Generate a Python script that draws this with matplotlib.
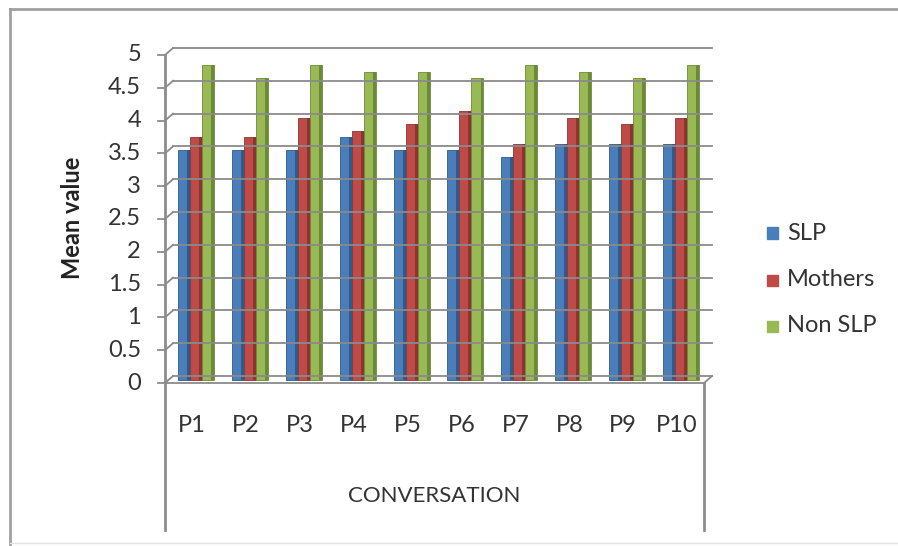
import matplotlib
matplotlib.use("Agg")
import matplotlib.pyplot as plt
from matplotlib.lines import Line2D
from matplotlib.patches import Rectangle
from matplotlib.transforms import IdentityTransform, ScaledTranslation

# ---- data ----
categories = ["P1", "P2", "P3", "P4", "P5", "P6", "P7", "P8", "P9", "P10"]
series_names = ["SLP", "Mothers", "Non SLP"]
slp = [3.5, 3.5, 3.5, 3.7, 3.5, 3.5, 3.4, 3.6, 3.6, 3.6]
mothers = [3.7, 3.7, 4.0, 3.8, 3.9, 4.1, 3.6, 4.0, 3.9, 4.0]
non_slp = [4.8, 4.6, 4.8, 4.7, 4.7, 4.6, 4.8, 4.7, 4.6, 4.8]
y_ticks = [0, 0.5, 1, 1.5, 2, 2.5, 3, 3.5, 4, 4.5, 5]
y_tick_labels = ["0", "0.5", "1", "1.5", "2", "2.5", "3", "3.5", "4", "4.5", "5"]
x_title = "CONVERSATION"
y_title = "Mean value"

face_colors = ["#4A7EBB", "#BE4B48", "#98B954"]
side_colors = ["#2F5A8A", "#8C3432", "#6A8A38"]

plt.rcParams["font.family"] = ["Lato", "DejaVu Sans"]

W, H, DPI = 898, 546, 100
fig = plt.figure(figsize=(W / DPI, H / DPI), dpi=DPI)
fig.patch.set_facecolor("white")

# bar plane (middle depth of the pseudo-3D box)
L, R, T, B = 169, 708, 52, 380
ax = fig.add_axes([L / W, 1 - B / H, (R - L) / W, (B - T) / H])
ax.set_xlim(-0.5, len(categories) - 0.5)
ax.set_ylim(0, 5)
ax.axis("off")

grid_col = "#8A8A8A"
axis_col = "#8C8C8C"


def disp(x, v):
    return ax.transData.transform((x, v))


def pix_line(xs, ys, **kw):
    """Line in figure pixel coordinates (origin at top-left)."""
    ln = Line2D(xs, [H - y for y in ys], transform=IdentityTransform(), **kw)
    fig.add_artist(ln)
    return ln


front = (-4, 3)   # pixel offset (dx, dy-down) of the front plane
back = (4, -4)    # pixel offset of the back wall

x0, x1 = -0.5, len(categories) - 0.5

def to_px(x, v, off):
    dx, dy = disp(x, v)
    return dx + off[0], (H - dy) + off[1]

# back wall gridlines and diagonal connectors to the front axis
for v in y_ticks:
    bx0, by0 = to_px(x0, v, back)
    bx1, by1 = to_px(x1, v, back)
    fx0, fy0 = to_px(x0, v, front)
    pix_line([bx0, bx1], [by0, by1], color=grid_col, lw=1.3, zorder=1)
    pix_line([fx0, bx0], [fy0, by0], color=grid_col, lw=1.3, zorder=1)
    # tick mark on front axis
    pix_line([fx0 - 7, fx0], [fy0, fy0], color=axis_col, lw=1.3, zorder=1)
    fig.text((fx0 - 24) / W, 1 - fy0 / H, y_tick_labels[y_ticks.index(v)],
             ha="right", va="center", fontsize=17, color="#333333")

# floor edges
fx0, fy0 = to_px(x0, 0, front)
fx1, fy1 = to_px(x1, 0, front)
bx1, by1 = to_px(x1, 0, back)
_, fy5 = to_px(x0, 5, front)
pix_line([fx0, fx1], [fy0, fy1], color=grid_col, lw=1.3, zorder=1)
pix_line([fx1, bx1], [fy1, by1], color=grid_col, lw=1.3, zorder=1)

# front vertical axis line, extending down around the category labels
pix_line([fx0, fx0], [fy5, 530], color=axis_col, lw=2.0, zorder=1)
pix_line([fx1, fx1], [fy1, 530], color=axis_col, lw=2.0, zorder=1)

# bars
n = len(categories)
bw = 0.223
sw = 0.055
data = [slp, mothers, non_slp]
for k, (vals, fc, sc) in enumerate(zip(data, face_colors, side_colors)):
    xs = [i + (k - 1) * bw for i in range(n)]
    ax.bar(xs, vals, bw, color=fc, edgecolor=sc, linewidth=0.6,
           zorder=3 + 2 * k, clip_on=False)
    ax.bar([x + bw / 2 - sw / 2 for x in xs], vals, sw, color=sc,
           linewidth=0, zorder=4 + 2 * k, clip_on=False)

# category labels on the front plane
for i, c in enumerate(categories):
    cx, _ = to_px(i, 0, front)
    fig.text(cx / W, 1 - 425 / H, c, ha="center", va="center",
             fontsize=17, color="#333333")

fig.text(((fx0 + fx1) / 2) / W, 1 - 496 / H, x_title, ha="center",
         va="center", fontsize=16, color="#333333")

fig.text(72 / W, 1 - 218 / H, y_title, rotation=90, ha="center",
         va="center", fontsize=17, fontweight="bold", color="#222222")

# legend
leg_y = [233, 280, 326]
for name, fc, ly in zip(series_names, face_colors, leg_y):
    fig.add_artist(Rectangle((767 / W, 1 - (ly + 5.5) / H), 11 / W, 11 / H,
                             transform=fig.transFigure, color=fc))
    fig.text(787 / W, 1 - ly / H, name, ha="left", va="center",
             fontsize=17, color="#333333")

# chart area border
pix_line([10, 10], [9, 546], color="#A0A0A0", lw=2.0)
pix_line([10, 898], [9, 9], color="#A0A0A0", lw=2.0)
pix_line([10, 898], [543, 543], color="#E4E4E4", lw=1.0)

fig.savefig("out.png", dpi=DPI)
